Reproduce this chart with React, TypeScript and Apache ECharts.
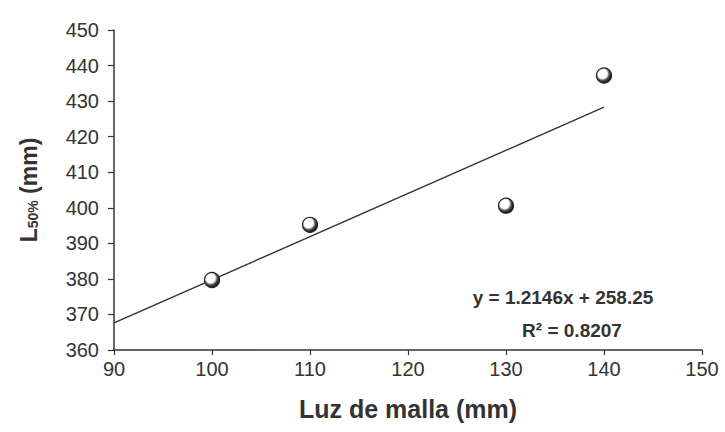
import React, { useEffect, useRef } from "react";
import * as echarts from "echarts";

const meshSizes = [100, 110, 130, 140];
const l50Values = [379.7, 395.2, 400.6, 437.2];
const trendX = [90, 140];
const trendY = [367.6, 428.3];
const equationText = "y = 1.2146x + 258.25";
const r2Text = "R² = 0.8207";
const xAxisTitle = "Luz de malla (mm)";

const FONT = "'Liberation Sans', Arial, sans-serif";
const INK = "#333333";

export default function App() {
  const ref = useRef<HTMLDivElement>(null);

  useEffect(() => {
    if (!ref.current) return;
    const chart = echarts.init(ref.current, null, { renderer: "svg" });
    const marker = new echarts.graphic.RadialGradient(0.4, 0.38, 0.62, [
      { offset: 0, color: "#ffffff" },
      { offset: 0.5, color: "#ffffff" },
      { offset: 0.72, color: "#555555" },
      { offset: 1, color: "#111111" },
    ]);
    chart.setOption({
      animation: false,
      backgroundColor: "#ffffff",
      textStyle: { fontFamily: FONT, color: INK },
      grid: { left: 114, right: 23, top: 30, bottom: 82 },
      xAxis: {
        type: "value",
        min: 90,
        max: 150,
        interval: 10,
        name: xAxisTitle,
        nameLocation: "middle",
        nameGap: 46,
        nameTextStyle: { fontSize: 25, fontWeight: "bold", color: INK, fontFamily: FONT },
        axisLine: { show: true, lineStyle: { color: INK, width: 1.5 } },
        axisTick: { show: true, inside: false, length: 5, lineStyle: { color: INK, width: 1.2 } },
        axisLabel: { fontSize: 20, color: INK, margin: 9, fontFamily: FONT },
        splitLine: { show: false },
      },
      yAxis: {
        type: "value",
        min: 360,
        max: 450,
        interval: 10,
        name: "{a|L}{s|50%}{a| (mm)}",
        nameLocation: "middle",
        nameGap: 74,
        nameRotate: 90,
        nameTextStyle: {
          color: INK,
          fontFamily: FONT,
          rich: {
            a: { fontSize: 23, fontWeight: "bold", color: INK, fontFamily: FONT, lineHeight: 26, verticalAlign: "bottom" },
            s: { fontSize: 14, fontWeight: "bold", color: INK, fontFamily: FONT, lineHeight: 14, verticalAlign: "bottom" },
          },
        },
        axisLine: { show: true, lineStyle: { color: INK, width: 1.5 } },
        axisTick: { show: true, inside: false, length: 6, lineStyle: { color: INK, width: 1.2 } },
        axisLabel: { fontSize: 20, color: INK, margin: 15, fontFamily: FONT },
        splitLine: { show: false },
      },
      series: [
        {
          type: "line",
          data: trendX.map((x, i) => [x, trendY[i]]),
          showSymbol: false,
          symbol: "none",
          lineStyle: { color: INK, width: 1.4 },
          silent: true,
          z: 2,
        },
        {
          type: "scatter",
          data: meshSizes.map((x, i) => [x, l50Values[i]]),
          symbol: "circle",
          symbolSize: 15,
          itemStyle: { color: marker, borderColor: "#222222", borderWidth: 1.2, opacity: 1 },
          z: 3,
        },
      ],
      graphic: [
        {
          type: "text",
          x: 563,
          y: 297,
          style: {
            text: equationText,
            fontSize: 19,
            fontWeight: "bold",
            fontFamily: FONT,
            fill: INK,
            align: "center",
            verticalAlign: "middle",
          },
        },
        {
          type: "text",
          x: 572,
          y: 330,
          style: {
            text: r2Text,
            fontSize: 19,
            fontWeight: "bold",
            fontFamily: FONT,
            fill: INK,
            align: "center",
            verticalAlign: "middle",
          },
        },
      ],
    });
    return () => chart.dispose();
  }, []);

  return (
    <div
      ref={ref}
      style={{ position: "fixed", left: 0, top: 0, width: 725, height: 432, background: "#fff" }}
    />
  );
}
